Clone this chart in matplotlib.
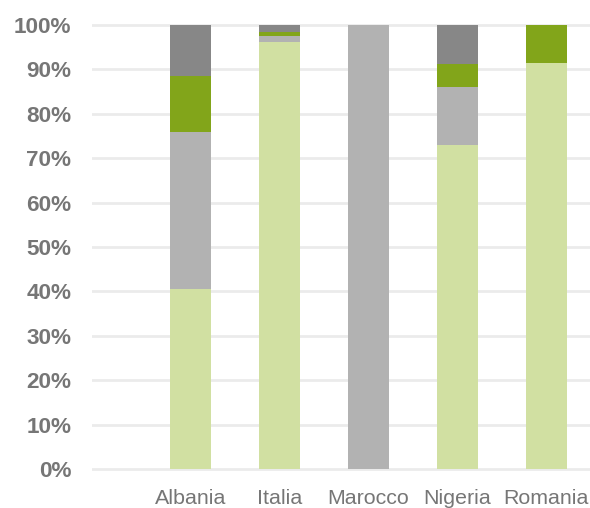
import numpy as np
import matplotlib
matplotlib.use("Agg")
import matplotlib.pyplot as plt
from matplotlib.ticker import FuncFormatter

countries = ["Albania", "Italia", "Marocco", "Nigeria", "Romania"]

# shares per country (fractions), stacked bottom to top
seg_light_green = [0.405, 0.962, 0.000, 0.730, 0.915]
seg_light_gray = [0.355, 0.014, 1.000, 0.130, 0.000]
seg_green = [0.126, 0.009, 0.000, 0.053, 0.085]
seg_dark_gray = [0.114, 0.015, 0.000, 0.087, 0.000]

segments = [seg_light_green, seg_light_gray, seg_green, seg_dark_gray]
colors = ["#d1e0a2", "#b2b2b2", "#82a51a", "#878787"]

plt.rcParams["font.family"] = ["Liberation Sans", "DejaVu Sans"]

fig = plt.figure(figsize=(5.9, 5.08), dpi=100)
ax = fig.add_axes([0.156, 0.0593, 0.844, 0.909])

x = np.arange(len(countries))
bottom = np.zeros(len(countries))
for vals, col in zip(segments, colors):
    ax.bar(x, vals, bottom=bottom, width=0.46, color=col, linewidth=0, zorder=3)
    bottom += np.array(vals)

ax.set_xlim(-1.107, 4.49)
ax.set_ylim(-0.02, 1.02)
ax.set_yticks(np.arange(0, 1.01, 0.1))
ax.yaxis.set_major_formatter(FuncFormatter(lambda v, _: f"{v * 100:.0f}%"))
ax.grid(axis="y", color="#ebebeb", linewidth=2, zorder=0)
ax.set_axisbelow(True)

ax.set_xticks(x)
ax.set_xticklabels(countries, fontsize=15.4, color="#767676")
for lbl in ax.get_yticklabels():
    lbl.set_fontsize(16.2)
    lbl.set_fontweight("bold")
    lbl.set_color("#767676")

ax.tick_params(axis="both", length=0)
ax.tick_params(axis="y", pad=15)
ax.tick_params(axis="x", pad=8)
for s in ax.spines.values():
    s.set_visible(False)

fig.savefig("out.png", dpi=100)
